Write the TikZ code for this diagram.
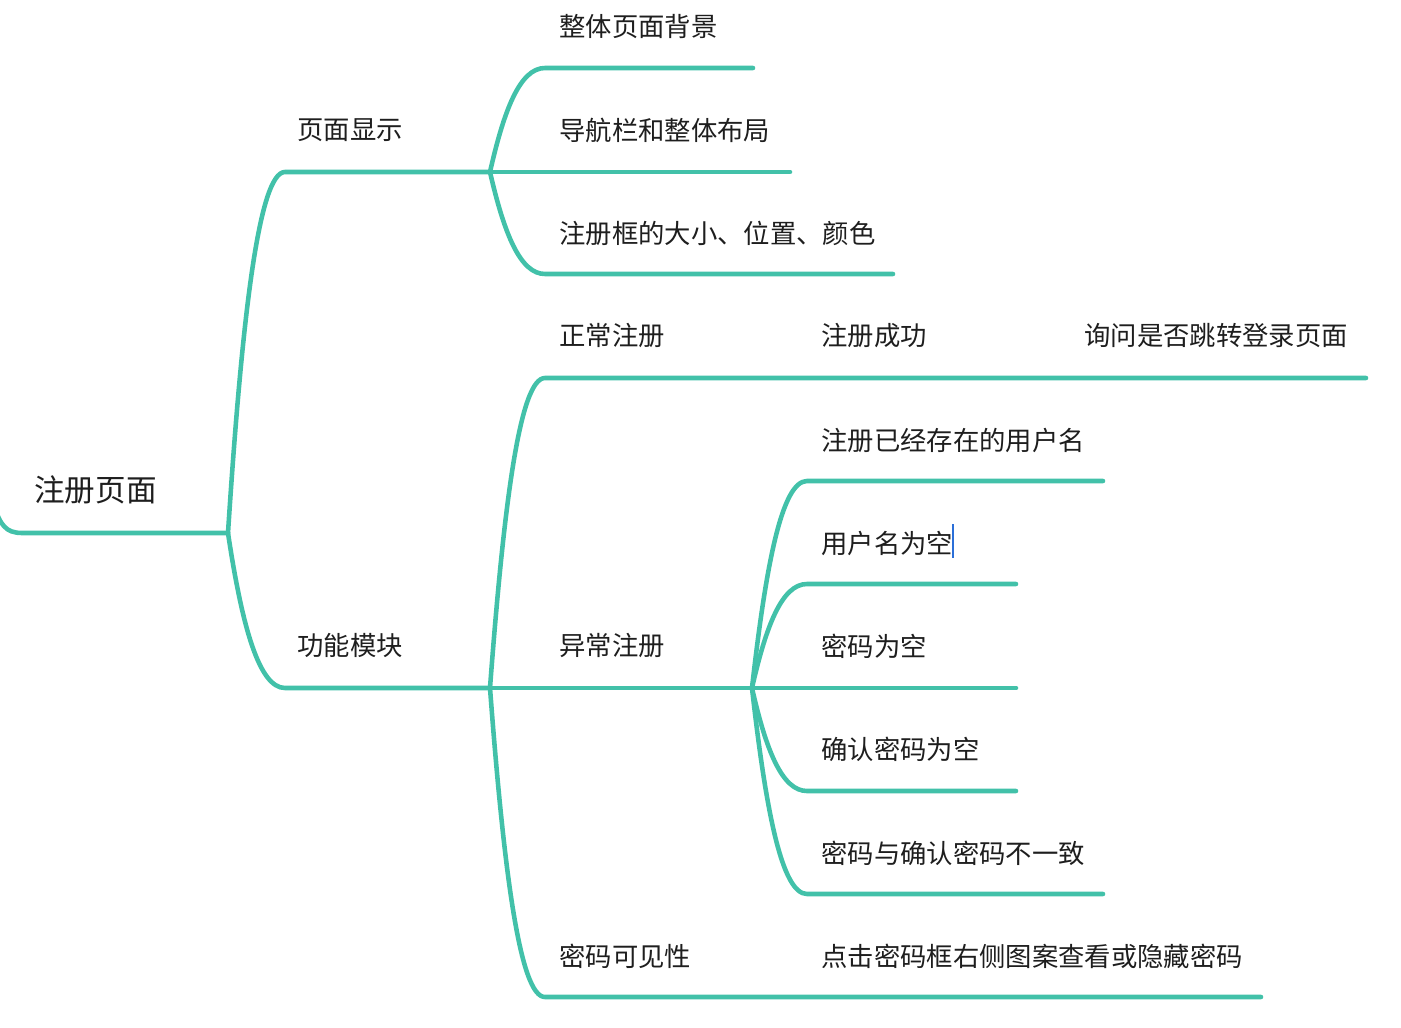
\documentclass[tikz,border=0pt]{standalone}
\usepackage{fontspec}
\setmainfont{Noto Sans CJK SC}
\usepackage{xcolor}
\usepackage{tikz}
\definecolor{mint}{HTML}{42C1A9}
\definecolor{ink}{HTML}{1E1E1E}
\definecolor{caret}{HTML}{2B6FD8}

\begin{document}
\begin{tikzpicture}[
  x=0.02cm, y=-0.02cm,
  line/.style={draw=mint, line width=2.6pt, line cap=round, line join=round},
  topic/.style={anchor=west, inner sep=0pt, text=ink, font=\fontsize{17.4}{20}\selectfont},
  leaf/.style={anchor=west, inner sep=0pt, text=ink, font=\fontsize{15}{18}\selectfont}
]
\clip (0,0) rectangle (1401,1028);
% texts
\node[topic] (root) at (34,490) {注册页面};
\node[leaf] (show) at (297,130) {页面显示};
\node[leaf] (func) at (297,645) {功能模块};
\node[leaf] (bg) at (559,27) {整体页面背景};
\node[leaf] (nav) at (559,130) {导航栏和整体布局};
\node[leaf] (box) at (559,233) {注册框的大小、位置、颜色};
\node[leaf] (normal) at (559,336) {正常注册};
\node[leaf] (ok) at (821,336) {注册成功};
\node[leaf] (ask) at (1084,336) {询问是否跳转登录页面};
\node[leaf] (abnormal) at (559,646) {异常注册};
\node[leaf] (exist) at (821,440) {注册已经存在的用户名};
\node[leaf] (nouser) at (821,543) {用户名为空};
\node[leaf] (nopw) at (821,646) {密码为空};
\node[leaf] (noconf) at (821,749) {确认密码为空};
\node[leaf] (diff) at (821,853) {密码与确认密码不一致};
\node[leaf] (vis) at (559,956) {密码可见性};
\node[leaf] (click) at (821,956) {点击密码框右侧图案查看或隐藏密码};
% forks and line ends
\coordinate (r0) at (-6,505);
\coordinate (r1) at (228,533);
\coordinate (f1) at (490,172);
\coordinate (f2) at (490,688);
\coordinate (f3) at (752,688);
\coordinate (bg-e) at (753,68);
\coordinate (nav-e) at (790,172);
\coordinate (box-e) at (893,274);
\coordinate (ask-e) at (1366,378);
\coordinate (exist-e) at (1103,481);
\coordinate (nouser-e) at (1016,584);
\coordinate (nopw-e) at (1016,688);
\coordinate (noconf-e) at (1016,791);
\coordinate (diff-e) at (1103,894);
\coordinate (click-e) at (1261,997);
% root
\draw[line] (r0) .. controls +(6,20) and +(-16,0) .. (22,533) -- (r1);
\draw[line] (r1) .. controls +(14,-217) and +(-26,0) .. (285,172) -- (f1);
\draw[line] (r1) .. controls +(14,93) and +(-26,0) .. (285,688) -- (f2);
% page display
\draw[line] (f1) .. controls +(14,-62) and +(-25,0) .. (545,68) -- (bg-e);
\draw[line] (f1) -- (nav-e);
\draw[line] (f1) .. controls +(14,61) and +(-25,0) .. (545,274) -- (box-e);
% functions
\draw[line] (f2) .. controls +(14,-186) and +(-25,0) .. (545,378) -- (ask-e);
\draw[line] (f2) -- (f3);
\draw[line] (f2) .. controls +(14,185) and +(-25,0) .. (545,997) -- (click-e);
% abnormal register
\draw[line] (f3) .. controls +(14,-124) and +(-25,0) .. (807,481) -- (exist-e);
\draw[line] (f3) .. controls +(14,-62) and +(-25,0) .. (807,584) -- (nouser-e);
\draw[line] (f3) -- (nopw-e);
\draw[line] (f3) .. controls +(14,62) and +(-25,0) .. (807,791) -- (noconf-e);
\draw[line] (f3) .. controls +(14,124) and +(-25,0) .. (807,894) -- (diff-e);
% text cursor
\draw[caret, line width=0.6pt] (953,524) -- (953,558);
\end{tikzpicture}
\end{document}
